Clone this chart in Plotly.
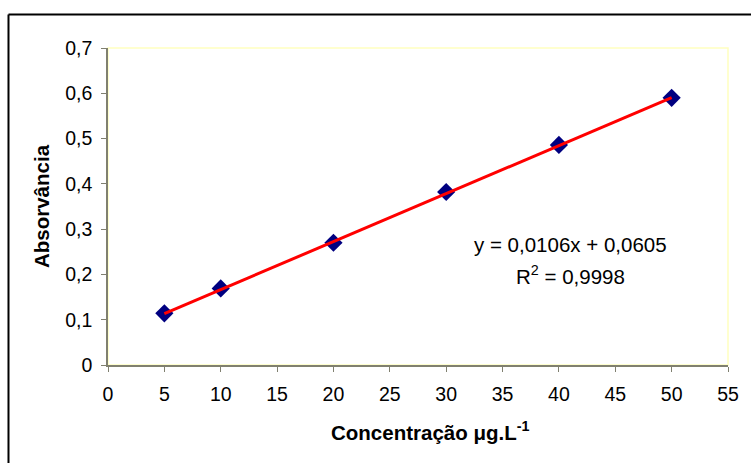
import plotly.graph_objects as go

conc = [5, 10, 20, 30, 40, 50]
absorb = [0.114, 0.169, 0.270, 0.382, 0.486, 0.590]
slope = 0.0106
intercept = 0.0605
trend_x = [5, 50]
trend_y = [slope * v + intercept for v in trend_x]

x_ticks = list(range(0, 56, 5))
y_ticks = [0, 0.1, 0.2, 0.3, 0.4, 0.5, 0.6, 0.7]

font = "Liberation Sans, Arial, sans-serif"
axis_col = "#808070"
fs = 19.5
ft = 20.5

fig = go.Figure()
fig.add_trace(go.Scatter(x=conc, y=absorb, mode="markers",
                         marker=dict(symbol="diamond", size=14, color="#000080"),
                         showlegend=False))
fig.add_trace(go.Scatter(x=trend_x, y=trend_y, mode="lines",
                         line=dict(color="#FF0000", width=3), showlegend=False))

fig.add_annotation(x=41.0, y=0.265, xref="x", yref="y", showarrow=False,
                   text="y = 0,0106x + 0,0605", font=dict(family=font, size=ft, color="black"))
fig.add_annotation(x=41.0, y=0.199, xref="x", yref="y", showarrow=False,
                   text="R<sup>2</sup> = 0,9998", font=dict(family=font, size=ft, color="black"))

# x axis title
fig.add_annotation(x=0.519, y=-0.207, xref="paper", yref="paper", showarrow=False,
                   yanchor="middle", xanchor="center",
                   text="<b>Concentração μg.L<sup>-1</sup></b>",
                   font=dict(family=font, size=ft, color="black"))

# plot-area border (light yellow on top/right)
fig.add_shape(type="rect", xref="x domain", yref="y domain", x0=0, x1=1, y0=0, y1=1,
              line=dict(color="#FFFFC0", width=1.5), layer="below")
# outer chart frame (left and top)
fig.add_shape(type="line", xref="paper", yref="paper", x0=-0.1605, x1=-0.1605, y0=-0.35, y1=1.1057,
              line=dict(color="black", width=2))
fig.add_shape(type="line", xref="paper", yref="paper", x0=-0.1605, x1=1.1, y0=1.1057, y1=1.1057,
              line=dict(color="black", width=2))

fig.update_xaxes(range=[0, 55], tickvals=x_ticks, ticks="outside", ticklen=5, tickcolor=axis_col,
                 showline=True, linecolor=axis_col, linewidth=1.5, showgrid=False, zeroline=False,
                 ticklabelstandoff=6,
                 tickfont=dict(family=font, size=fs, color="black"))
fig.update_yaxes(range=[0, 0.7], tickvals=y_ticks, ticks="outside", ticklen=5, tickcolor=axis_col,
                 showline=True, linecolor=axis_col, linewidth=1.5, showgrid=False, zeroline=False,
                 ticklabelstandoff=5,
                 tickfont=dict(family=font, size=fs, color="black"),
                 title=dict(text="<b>Absorvância</b>", standoff=10,
                            font=dict(family=font, size=ft, color="black")))

fig.update_layout(width=751, height=463, separators=",.",
                  margin=dict(l=108, r=17, t=48, b=98),
                  plot_bgcolor="white", paper_bgcolor="white")

fig.write_html("out.html", config={"displayModeBar": False},
               post_script="document.body.style.margin='0';")
